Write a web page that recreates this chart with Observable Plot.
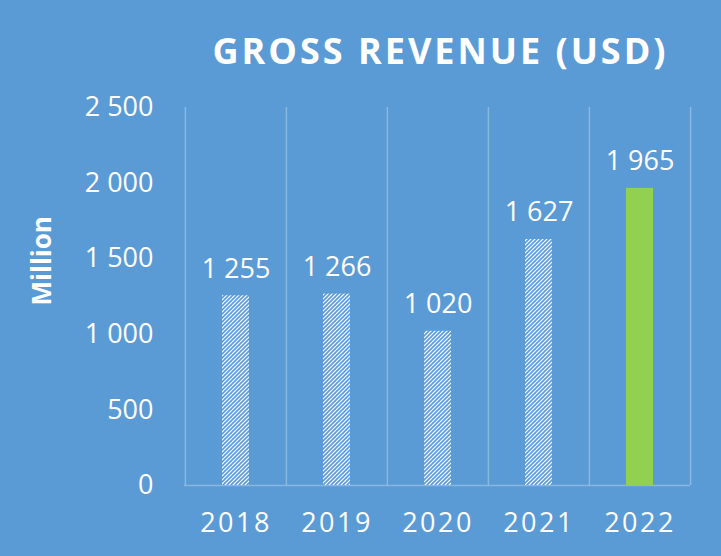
<!DOCTYPE html>
<html>
<head>
<meta charset="utf-8">
<script src="https://cdn.jsdelivr.net/npm/d3@7"></script>
<script src="https://cdn.jsdelivr.net/npm/@observablehq/plot@0.6"></script>
<style>
  html, body { margin: 0; padding: 0; background: #ffffff; }
  #chart { position: relative; width: 721px; height: 556px; background: #5B9BD5; overflow: hidden; }
  #title { position: absolute; left: 0; width: 721px; top: 29px; padding-left: 160px; box-sizing: border-box;
           text-align: center; font-family: "Open Sans", sans-serif; font-weight: 700; font-size: 36px;
           letter-spacing: 3px; color: #ffffff; line-height: 1.2; white-space: nowrap; }
  #chart svg { position: absolute; left: 0; top: 0; }
  g[aria-label="x-axis tick label"] text { letter-spacing: 2.5px; }
</style>
</head>
<body>
<div id="chart"><div id="title">GROSS REVENUE (USD)</div></div>
<script>
const years = ["2018", "2019", "2020", "2021", "2022"];
const revenue = [1255, 1266, 1020, 1627, 1965];
const yTicks = [0, 500, 1000, 1500, 2000, 2500];
const highlightYear = "2022";
const yLabel = "Million";

const data = years.map((y, i) => ({year: y, value: revenue[i]}));
const fmt = d3.formatLocale({decimal: ".", thousands: " ", grouping: [3], currency: ["", ""]}).format(",d");

const blue = "#5B9BD5";
const green = "#92D050";
const gridColor = "rgba(255,255,255,0.28)";
const step = (721 - 184 - 31) / years.length;

const defs = () => {
  const g = d3.create("svg:defs");
  const p = g.append("pattern").attr("id", "hatch").attr("width", 4).attr("height", 4)
    .attr("patternUnits", "userSpaceOnUse");
  p.append("rect").attr("width", 4).attr("height", 4).attr("fill", "#ffffff");
  p.append("path").attr("d", "M-1,1 l2,-2 M0,4 l4,-4 M3,5 l2,-2")
    .attr("stroke", blue).attr("stroke-width", 1.6);
  return g.node();
};

const chart = Plot.plot({
  width: 721,
  height: 556,
  marginLeft: 184,
  marginRight: 31,
  marginTop: 107,
  marginBottom: 71,
  style: {fontFamily: "Open Sans, sans-serif", fontSize: "27px", color: "#ffffff", background: "transparent"},
  x: {domain: years, paddingInner: 0.733, paddingOuter: 0.3665, label: null},
  y: {domain: [0, 2500], label: null},
  marks: [
    defs,
    Plot.ruleX(years, {x: d => d, y1: 0, y2: 2500, dx: -step / 2, stroke: gridColor, strokeWidth: 1.5}),
    Plot.ruleX([years[years.length - 1]], {x: d => d, y1: 0, y2: 2500, dx: step / 2, stroke: gridColor, strokeWidth: 1.5}),
    Plot.ruleY([0], {stroke: gridColor, strokeWidth: 1.5}),
    Plot.barY(data, {x: "year", y: "value", fill: "url(#hatch)", filter: d => d.year !== highlightYear}),
    Plot.barY(data, {x: "year", y: "value", fill: green, filter: d => d.year === highlightYear}),
    Plot.text(data, {x: "year", y: "value", text: d => fmt(d.value), lineAnchor: "bottom", dy: -18,
                     fill: "#ffffff", fontSize: 27}),
    Plot.axisY({ticks: yTicks, tickSize: 0, tickPadding: 31, tickFormat: fmt, label: null}),
    Plot.axisX({tickSize: 0, tickPadding: 27, label: null}),
    Plot.text([yLabel], {frameAnchor: "left", rotate: -90, dx: -142, dy: 9, text: d => d,
                         fill: "#ffffff", fontWeight: "bold", fontSize: 26})
  ]
});
document.getElementById("chart").appendChild(chart);
</script>
</body>
</html>
